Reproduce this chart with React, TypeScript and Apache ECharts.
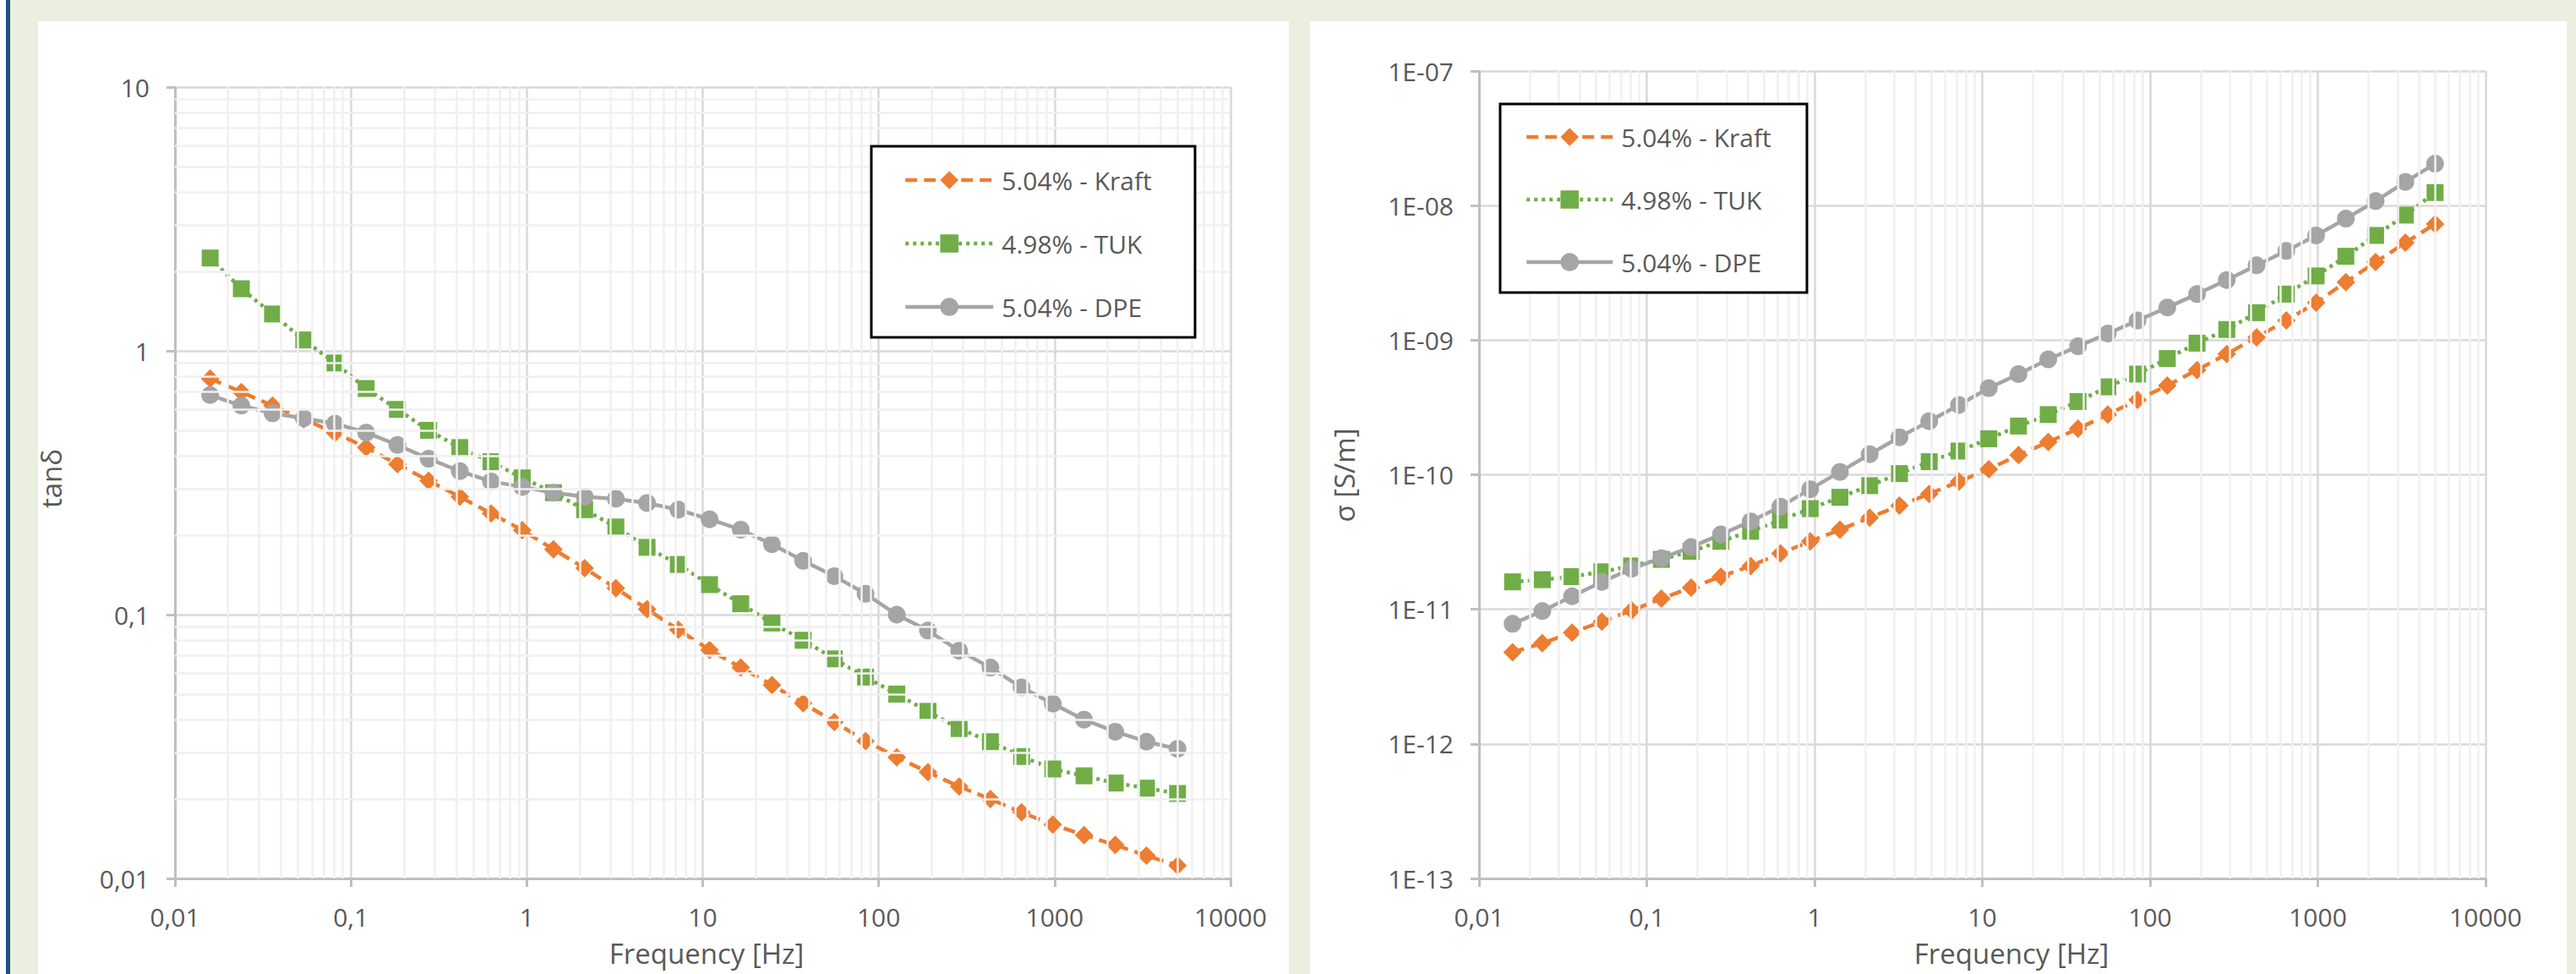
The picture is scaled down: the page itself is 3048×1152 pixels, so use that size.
import React, { useEffect, useRef } from "react";
import * as echarts from "echarts";

// ---- data ----
const frequencies = [
  0.01585, 0.02384, 0.03587, 0.05397, 0.08121, 0.1222, 0.1838, 0.2766, 0.4161, 0.626,
  0.942, 1.417, 2.132, 3.208, 4.826, 7.261, 10.93, 16.44, 24.73, 37.21, 55.98, 84.23,
  126.7, 190.6, 286.8, 431.5, 649.2, 976.8, 1470, 2211, 3327, 5000,
];
const tanKraft = [
  0.785, 0.698, 0.62, 0.551, 0.489, 0.43, 0.372, 0.322, 0.28, 0.242, 0.209, 0.177, 0.15,
  0.126, 0.105, 0.0877, 0.0735, 0.0631, 0.0541, 0.0462, 0.0392, 0.0332, 0.0288, 0.0253,
  0.0223, 0.02, 0.0178, 0.016, 0.0146, 0.0134, 0.0122, 0.0112,
];
const tanTUK = [
  2.25, 1.72, 1.38, 1.1, 0.9, 0.72, 0.6, 0.5, 0.43, 0.38, 0.33, 0.29, 0.25, 0.215, 0.18,
  0.155, 0.13, 0.11, 0.093, 0.08, 0.068, 0.058, 0.05, 0.043, 0.037, 0.033, 0.029, 0.026,
  0.0245, 0.023, 0.022, 0.021,
];
const tanDPE = [
  0.68, 0.62, 0.58, 0.555, 0.53, 0.49, 0.44, 0.39, 0.35, 0.32, 0.305, 0.29, 0.28, 0.275,
  0.265, 0.25, 0.23, 0.21, 0.185, 0.16, 0.14, 0.12, 0.1, 0.087, 0.073, 0.063, 0.053, 0.046,
  0.04, 0.036, 0.033, 0.031,
];
const sigKraft = [
  4.8e-12, 5.6e-12, 6.7e-12, 8.1e-12, 9.8e-12, 1.2e-11, 1.45e-11, 1.75e-11, 2.1e-11,
  2.6e-11, 3.2e-11, 3.9e-11, 4.8e-11, 5.9e-11, 7.2e-11, 8.9e-11, 1.1e-10, 1.4e-10,
  1.75e-10, 2.2e-10, 2.8e-10, 3.6e-10, 4.6e-10, 6e-10, 7.9e-10, 1.05e-9, 1.4e-9, 1.9e-9,
  2.7e-9, 3.8e-9, 5.3e-9, 7.3e-9,
];
const sigTUK = [
  1.6e-11, 1.66e-11, 1.75e-11, 1.9e-11, 2.1e-11, 2.35e-11, 2.7e-11, 3.2e-11, 3.8e-11,
  4.6e-11, 5.6e-11, 6.8e-11, 8.3e-11, 1.02e-10, 1.25e-10, 1.5e-10, 1.85e-10, 2.3e-10,
  2.8e-10, 3.5e-10, 4.5e-10, 5.6e-10, 7.3e-10, 9.5e-10, 1.2e-9, 1.6e-9, 2.2e-9, 3e-9,
  4.2e-9, 6e-9, 8.5e-9, 1.25e-8,
];
const sigDPE = [
  7.8e-12, 9.7e-12, 1.25e-11, 1.6e-11, 2e-11, 2.4e-11, 2.9e-11, 3.6e-11, 4.5e-11, 5.8e-11,
  7.8e-11, 1.05e-10, 1.42e-10, 1.9e-10, 2.5e-10, 3.3e-10, 4.4e-10, 5.6e-10, 7.2e-10, 9e-10,
  1.12e-9, 1.4e-9, 1.75e-9, 2.2e-9, 2.8e-9, 3.6e-9, 4.6e-9, 6e-9, 8e-9, 1.08e-8, 1.5e-8,
  2.05e-8,
];
const seriesNames = ["5.04% - Kraft", "4.98% - TUK", "5.04% - DPE"];
const xTickLabels = ["0,01", "0,1", "1", "10", "100", "1000", "10000"];
const tanTickLabels = ["0,01", "0,1", "1", "10"];
const sigTickLabels = ["1E-13", "1E-12", "1E-11", "1E-10", "1E-09", "1E-08", "1E-07"];

// ---- styling ----
const FONT = "Open Sans";
const TEXT = "#595959";
const seriesStyles = [
  { color: "#ED7D31", symbol: "diamond", dash: [14, 8] as any, size: 22 },
  { color: "#70AD47", symbol: "rect", dash: [4, 5] as any, size: 20 },
  { color: "#A5A5A5", symbol: "circle", dash: "solid" as any, size: 21 },
];

function minorValues(minExp: number, maxExp: number): number[] {
  const out: number[] = [];
  for (let e = minExp; e < maxExp; e++) {
    for (let m = 2; m <= 9; m++) out.push(Number((m * Math.pow(10, e)).toPrecision(6)));
  }
  return out;
}

function labelFor(labels: string[], minExp: number) {
  return (v: number) => {
    const i = Math.round(Math.log10(v)) - minExp;
    return labels[i] ?? "";
  };
}

function logAxis(gridIndex: number, min: number, max: number, labels: string[], minExp: number) {
  return {
    type: "log",
    logBase: 10,
    gridIndex,
    min,
    max,
    z: 2,
    axisLine: { show: true, onZero: false, lineStyle: { color: "#BFBFBF", width: 3 } },
    axisTick: { show: true, inside: false, length: 10, lineStyle: { color: "#BFBFBF", width: 3 } },
    axisLabel: {
      show: true,
      formatter: labelFor(labels, minExp),
      color: TEXT,
      fontSize: 30,
      fontFamily: FONT,
      margin: 30,
      showMinLabel: true,
      showMaxLabel: true,
    },
    splitLine: { show: true, lineStyle: { color: "#D9D9D9", width: 2.5 } },
    minorTick: { show: false },
    minorSplitLine: { show: false },
  };
}

function dataSeries(values: number[][], gridIndex: number) {
  return values.map((vals, k) => {
    const s = seriesStyles[k];
    return {
      name: seriesNames[k],
      type: "line",
      xAxisIndex: gridIndex,
      yAxisIndex: gridIndex,
      data: frequencies.map((f, i) => [f, vals[i]]),
      symbol: s.symbol,
      symbolSize: s.size,
      showSymbol: true,
      lineStyle: { color: s.color, width: 4.5, type: s.dash },
      itemStyle: { color: s.color },
      z: 3,
      silent: true,
      animation: false,
    };
  });
}

function minorGridSeries(gridIndex: number, xs: number[], ys: number[]) {
  return {
    type: "line",
    xAxisIndex: gridIndex,
    yAxisIndex: gridIndex,
    data: [],
    z: 1,
    silent: true,
    animation: false,
    markLine: {
      silent: true,
      animation: false,
      symbol: ["none", "none"],
      label: { show: false },
      emphasis: { disabled: true },
      lineStyle: { color: "#F0F0F0", width: 2.5, type: "solid" },
      data: [...xs.map((v) => ({ xAxis: v })), ...ys.map((v) => ({ yAxis: v }))],
    },
  };
}

function legendAt(left: number, top: number, gap: number, itemWidth: number) {
  return {
    show: true,
    data: seriesNames,
    orient: "vertical",
    left,
    top,
    padding: 0,
    itemGap: gap,
    itemWidth,
    itemHeight: 27,
    z: 8,
    selectedMode: false,
    lineStyle: { width: 4.5 },
    textStyle: {
      color: TEXT,
      fontSize: 30,
      fontFamily: FONT,
      lineHeight: 32,
      padding: [0, 0, 0, 5],
    },
  };
}

function legendBox(x: number, y: number, w: number, h: number) {
  return {
    type: "rect",
    z: 6,
    silent: true,
    shape: { x, y, width: w, height: h },
    style: { fill: "#FFFFFF", stroke: "#000000", lineWidth: 3 },
  };
}

function axisTitle(text: string, x: number, y: number, vertical: boolean) {
  return {
    type: "text",
    x,
    y,
    rotation: vertical ? Math.PI / 2 : 0,
    silent: true,
    style: { text, fill: TEXT, fontSize: 33, fontFamily: FONT, align: "center", verticalAlign: "middle" },
  };
}

export default function App() {
  const ref = useRef<HTMLDivElement>(null);

  useEffect(() => {
    if (!ref.current) return;
    const chart = echarts.init(ref.current, undefined, { renderer: "svg" });
    const option: any = {
      animation: false,
      backgroundColor: "transparent",
      grid: [
        { left: 207, top: 103, width: 1249, height: 936 },
        { left: 1750, top: 84, width: 1191, height: 955 },
      ],
      xAxis: [
        logAxis(0, 0.01, 10000, xTickLabels, -2),
        logAxis(1, 0.01, 10000, xTickLabels, -2),
      ],
      yAxis: [
        logAxis(0, 0.01, 10, tanTickLabels, -2),
        logAxis(1, 1e-13, 1e-7, sigTickLabels, -13),
      ],
      legend: [legendAt(1069, 197, 43, 104), legendAt(1804, 146, 42, 102)],
      series: [
        minorGridSeries(0, minorValues(-2, 4), minorValues(-2, 1)),
        minorGridSeries(1, minorValues(-2, 4), minorValues(-13, -7)),
        ...dataSeries([tanKraft, tanTUK, tanDPE], 0),
        ...dataSeries([sigKraft, sigTUK, sigDPE], 1),
      ],
      graphic: [
        legendBox(1031, 173, 383, 226),
        legendBox(1775, 123, 363, 223),
        axisTitle("Frequency [Hz]", 836, 1127, false),
        axisTitle("Frequency [Hz]", 2380, 1127, false),
        axisTitle("tanδ", 60, 566, true),
        axisTitle("σ [S/m]", 1590, 562, true),
      ],
    };
    chart.setOption(option);
    return () => chart.dispose();
  }, []);

  return (
    <div style={{ position: "absolute", left: 0, top: 0, width: 3048, height: 1152, background: "#EBEFDF", overflow: "hidden" }}>
      <div style={{ position: "absolute", left: 0, top: 0, width: 7, height: 1152, background: "#FFFFFF" }} />
      <div style={{ position: "absolute", left: 7, top: 0, width: 5, height: 1152, background: "#1F4E79" }} />
      <div style={{ position: "absolute", left: 45, top: 25, width: 1480, height: 1127, background: "#FFFFFF" }} />
      <div style={{ position: "absolute", left: 1550, top: 25, width: 1487, height: 1127, background: "#FFFFFF" }} />
      <div ref={ref} style={{ position: "absolute", left: 0, top: 0, width: 3048, height: 1152 }} />
    </div>
  );
}
